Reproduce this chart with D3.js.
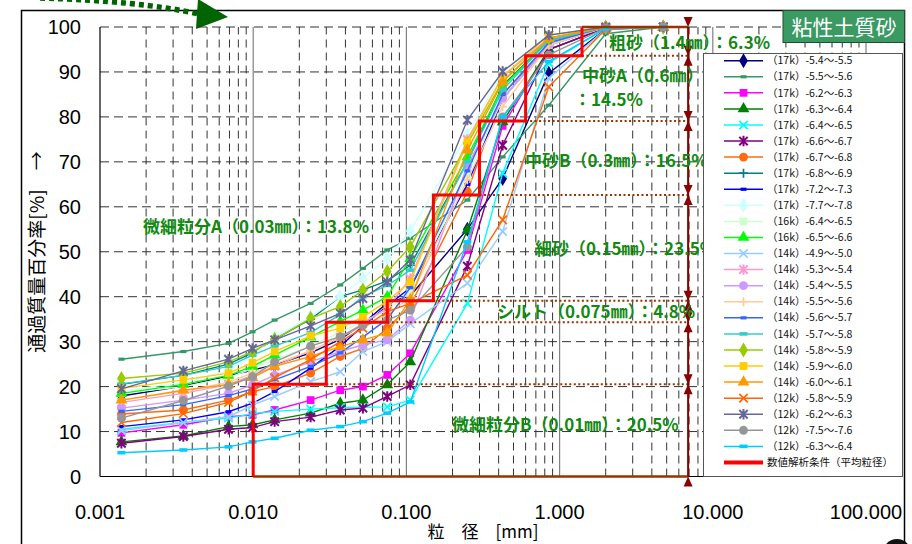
<!DOCTYPE html>
<html><head><meta charset="utf-8">
<script src="https://cdn.jsdelivr.net/npm/d3@7"></script>
<style>body{margin:0;background:#fff}svg{display:block}</style>
</head><body>
<svg id="chart" width="912" height="544"></svg>
<script>
// Particle-size (mm) at which each passing percentage was measured:
// hydrometer readings first, then the sieve openings.
const grainSizes = [0.00138, 0.0035, 0.0069, 0.0099, 0.0138, 0.0237, 0.037, 0.052,
                    0.075, 0.106, 0.25, 0.425, 0.85, 2.0, 4.75];

const seriesNames = [
  "（17k）-5.4～-5.5", "（17k）-5.5～-5.6", "（17k）-6.2～-6.3", "（17k）-6.3～-6.4",
  "（17k）-6.4～-6.5", "（17k）-6.6～-6.7", "（17k）-6.7～-6.8", "（17k）-6.8～-6.9",
  "（17k）-7.2～-7.3", "（17k）-7.7～-7.8", "（16k）-6.4～-6.5", "（16k）-6.5～-6.6",
  "（14k）-4.9～-5.0", "（14k）-5.3～-5.4", "（14k）-5.4～-5.5", "（14k）-5.5～-5.6",
  "（14k）-5.6～-5.7", "（14k）-5.7～-5.8", "（14k）-5.8～-5.9", "（14k）-5.9～-6.0",
  "（14k）-6.0～-6.1", "（12k）-5.8～-5.9", "（12k）-6.2～-6.3", "（12k）-7.5～-7.6",
  "（12k）-6.3～-6.4"
];

// Percent passing [%] for each sample, one row per sample, aligned with grainSizes.
const passingPercent = [
  [17.9, 20.1, 22.4, 23.7, 24.8, 27.5, 30.5, 34.0, 38.6, 40.2, 55.0, 66.3, 89.7, 99.5, 100],
  [26.1, 27.8, 29.6, 32.2, 34.8, 38.5, 42.6, 46.3, 50.4, 53.0, 61.5, 71.1, 82.6, 98.5, 100],
  [9.7, 11.5, 13.3, 13.7, 14.8, 17.0, 19.2, 20.0, 22.6, 27.4, 50.4, 78.0, 95.0, 99.8, 100],
  [7.7, 9.0, 11.1, 11.5, 12.6, 14.1, 16.3, 17.0, 20.4, 25.5, 54.8, 78.9, 95.0, 99.8, 100],
  [10.5, 12.0, 13.0, 14.0, 14.5, 15.0, 15.3, 15.4, 15.5, 17.0, 38.5, 67.5, 92.0, 99.7, 100],
  [7.4, 8.9, 10.5, 10.9, 12.2, 13.2, 14.8, 15.2, 17.8, 20.4, 46.8, 73.7, 95.0, 99.8, 100],
  [13.9, 14.8, 17.0, 18.9, 20.0, 23.0, 26.7, 28.5, 33.0, 38.0, 63.4, 85.0, 96.0, 100, 100],
  [20.5, 22.5, 25.0, 27.5, 30.5, 35.0, 40.0, 41.5, 43.5, 47.0, 70.0, 87.0, 97.0, 100, 100],
  [11.1, 12.6, 14.4, 16.3, 18.9, 24.1, 29.0, 33.5, 38.0, 42.0, 65.0, 84.0, 96.0, 100, 100],
  [19.0, 21.0, 23.5, 27.0, 31.0, 35.5, 40.0, 44.1, 48.5, 54.6, 76.0, 90.0, 98.0, 100, 100],
  [18.5, 20.0, 22.0, 24.0, 26.0, 29.0, 32.0, 34.5, 37.0, 41.0, 67.0, 84.0, 96.0, 100, 100],
  [18.5, 20.5, 22.5, 24.5, 27.0, 31.0, 34.5, 37.0, 40.0, 48.5, 71.1, 86.7, 97.0, 100, 100],
  [10.2, 12.0, 13.3, 15.9, 17.8, 21.1, 23.3, 27.8, 30.0, 34.0, 43.0, 54.5, 88.6, 99.5, 100],
  [16.5, 18.5, 20.5, 22.5, 24.5, 28.0, 31.0, 34.0, 37.5, 44.0, 75.0, 89.0, 97.5, 100, 100],
  [15.2, 17.0, 18.5, 20.4, 22.5, 25.5, 27.8, 29.3, 30.4, 34.8, 69.1, 84.1, 96.0, 100, 100],
  [17.0, 19.0, 21.0, 23.0, 25.0, 28.0, 31.0, 33.5, 36.0, 40.0, 66.0, 82.3, 96.0, 100, 100],
  [14.5, 16.0, 18.0, 19.5, 21.5, 24.5, 27.5, 31.0, 35.0, 42.0, 68.0, 85.0, 96.5, 100, 100],
  [20.6, 22.5, 24.5, 27.0, 29.0, 32.0, 36.0, 40.0, 42.5, 45.9, 70.0, 86.0, 97.0, 100, 100],
  [21.8, 23.0, 25.5, 27.8, 30.5, 35.2, 37.8, 41.5, 45.6, 51.1, 74.0, 88.0, 97.5, 100, 100],
  [19.6, 21.5, 23.0, 25.3, 27.8, 31.3, 33.0, 35.5, 39.0, 43.3, 74.5, 89.0, 98.2, 100, 100],
  [17.0, 19.2, 20.5, 22.0, 24.5, 26.7, 28.9, 30.4, 31.9, 39.3, 72.6, 87.8, 97.5, 100, 100],
  [12.0, 14.0, 16.5, 19.0, 22.0, 26.0, 30.0, 33.0, 36.7, 38.5, 44.8, 57.1, 86.7, 99.5, 100],
  [19.5, 23.5, 26.1, 28.5, 30.4, 33.5, 36.3, 39.6, 43.3, 48.2, 79.3, 90.1, 98.2, 100, 100],
  [13.0, 16.9, 20.1, 22.2, 25.5, 29.0, 31.1, 33.7, 34.8, 37.0, 51.1, 80.0, 93.8, 99.8, 100],
  [5.3, 5.9, 6.6, 7.7, 8.5, 10.3, 11.1, 12.2, 14.1, 16.6, 52.2, 80.0, 92.3, 99.7, 100]
];

// Grain classes used for the numerical analysis (mean size and share).
const classNames   = ["微細粒分B", "微細粒分A", "シルト", "細砂", "中砂B", "中砂A", "粗砂"];
const classSizes   = [0.01, 0.03, 0.075, 0.15, 0.3, 0.6, 1.4];
const classPercent = [20.5, 13.8, 4.8, 23.5, 16.5, 14.5, 6.3];

const yTicks = [0, 10, 20, 30, 40, 50, 60, 70, 80, 90, 100];
const xTicks = [0.001, 0.01, 0.1, 1, 10, 100];
const bracketSize = 6.9;   // grain size where the class bracket is drawn

// ---- styling (kept apart from the data) ----
const seriesStyle = [
  ["#000080", "diamond"], ["#339966", "dashS"], ["#FF00FF", "square"], ["#008000", "triangle"],
  ["#00FFFF", "x"], ["#800080", "star"], ["#FF6A10", "circle"], ["#008080", "plus"],
  ["#0000FF", "dashS"], ["#CCFFFF", "diamond"], ["#CCFFCC", "square"], ["#00FF00", "triangle"],
  ["#99CCFF", "x"], ["#FF99CC", "star"], ["#CC99FF", "circle"], ["#FFCC99", "plus"],
  ["#3366FF", "dashS"], ["#33CCCC", "dashL"], ["#99CC00", "diamond"], ["#FFCC00", "square"],
  ["#FF9900", "triangle"], ["#FF6600", "x"], ["#666699", "star"], ["#969696", "circle"],
  ["#00CCFF", "dashL"]
];
const labelGreen = "#128a12";
const brown = "#993300";
const darkRed = "#8B0000";

const svg = d3.select("#chart");
const x = d3.scaleLog().domain([0.001, 100]).range([100, 866]);
const y = d3.scaleLinear().domain([0, 100]).range([476.5, 27]);

// outer frame
svg.append("rect").attr("x", 21.5).attr("y", 10.5).attr("width", 883).attr("height", 600)
  .attr("fill", "#fff").attr("stroke", "#000").attr("stroke-width", 1.5);

// decorative arrow at the top-left corner
svg.append("path").attr("d", "M40,-2 Q140,1 199,14")
  .attr("fill", "none").attr("stroke", "#006400").attr("stroke-width", 5.5)
  .attr("stroke-dasharray", "5,4");
svg.append("path").attr("d", "M198,-1 L228,17 L196,29 Z").attr("fill", "#006400");

// ---- grid ----
const grid = svg.append("g");
yTicks.filter(v => v > 0).forEach(v => {
  grid.append("line").attr("x1", x(0.001)).attr("x2", x(100)).attr("y1", y(v)).attr("y2", y(v))
    .attr("stroke", "#333").attr("stroke-dasharray", "9,5");
});
xTicks.slice(0, -1).forEach(d => {
  for (let k = 2; k <= 9; k++) {
    grid.append("line").attr("x1", x(d * k)).attr("x2", x(d * k)).attr("y1", y(0)).attr("y2", y(100))
      .attr("stroke", "#333").attr("stroke-dasharray", "8,5");
  }
});
xTicks.slice(1).forEach(d => {
  grid.append("line").attr("x1", x(d)).attr("x2", x(d)).attr("y1", y(0)).attr("y2", y(100))
    .attr("stroke", "#808080").attr("stroke-width", 1.2);
});
// axes lines
svg.append("line").attr("x1", x(0.001)).attr("x2", x(0.001)).attr("y1", y(0)).attr("y2", y(100))
  .attr("stroke", "#000").attr("stroke-width", 1.2);
svg.append("line").attr("x1", x(0.001)).attr("x2", x(100)).attr("y1", y(0)).attr("y2", y(0))
  .attr("stroke", "#000").attr("stroke-width", 1.2);

// tick labels
svg.append("g").selectAll("text").data(yTicks).join("text")
  .attr("x", 81).attr("y", d => y(d)).attr("dy", "0.36em").attr("text-anchor", "end")
  .attr("font-family", "Liberation Sans, Arial, sans-serif").attr("font-size", 20).text(d => d);
svg.append("g").selectAll("text").data(xTicks).join("text")
  .attr("x", d => x(d)).attr("y", 519).attr("text-anchor", "middle")
  .attr("font-family", "Liberation Sans, Arial, sans-serif").attr("font-size", 20)
  .text(d => d3.format(".3f")(d));

// axis titles
svg.append("text").attr("transform", "translate(44,252) rotate(-90)").attr("text-anchor", "middle")
  .attr("font-family", "Noto Sans CJK JP").attr("font-size", 19).text("通過質量百分率[%]　→");
svg.append("text").attr("x", 483).attr("y", 538).attr("text-anchor", "middle")
  .attr("font-family", "Noto Sans CJK JP").attr("font-size", 17).text("粒　径　[mm]");

// ---- markers ----
function drawMarker(g, shape, color, px, py) {
  const m = g.append("g").attr("transform", `translate(${px},${py})`);
  const sym = (t, s) => m.append("path").attr("d", d3.symbol(t, s)()).attr("fill", color);
  const strokeP = (d, w) => m.append("path").attr("d", d).attr("fill", "none")
    .attr("stroke", color).attr("stroke-width", w);
  switch (shape) {
    case "diamond": sym(d3.symbolDiamond, 66); break;
    case "square": sym(d3.symbolSquare, 60); break;
    case "triangle": sym(d3.symbolTriangle, 60); break;
    case "circle": sym(d3.symbolCircle, 62); break;
    case "x": strokeP("M-4.2,-4.2L4.2,4.2M-4.2,4.2L4.2,-4.2", 1.7); break;
    case "star": strokeP("M-4.2,-4.2L4.2,4.2M-4.2,4.2L4.2,-4.2M0,-5.2L0,5.2", 2); break;
    case "plus": strokeP("M-4.5,0L4.5,0M0,-4.5L0,4.5", 1.7); break;
    case "dashS": m.append("rect").attr("x", -3).attr("y", -1.6).attr("width", 6).attr("height", 3.2).attr("fill", color); break;
    case "dashL": m.append("rect").attr("x", -4).attr("y", -1.8).attr("width", 8).attr("height", 3.6).attr("fill", color); break;
  }
}

// ---- series ----
const line = d3.line().x(d => x(d[0])).y(d => y(d[1]));
const plot = svg.append("g");
passingPercent.forEach((vals, i) => {
  const [color, shape] = seriesStyle[i];
  const pts = grainSizes.map((s, j) => [s, vals[j]]);
  const g = plot.append("g");
  g.append("path").attr("d", line(pts)).attr("fill", "none").attr("stroke", color).attr("stroke-width", 1.4);
  pts.forEach(p => drawMarker(g, shape, color, x(p[0]), y(p[1])));
});

// ---- class steps for the numerical analysis ----
const cumulative = d3.cumsum(classPercent);
const stepPts = [[classSizes[0], 0]];
classSizes.forEach((s, i) => {
  stepPts.push([s, cumulative[i]]);
  if (i + 1 < classSizes.length) stepPts.push([classSizes[i + 1], cumulative[i]]);
});
const ann = svg.append("g");
// baseline and top of the bracket
ann.append("line").attr("x1", x(classSizes[0])).attr("x2", x(bracketSize)).attr("y1", y(0)).attr("y2", y(0))
  .attr("stroke", brown).attr("stroke-width", 2.5);
ann.append("line").attr("x1", x(classSizes[classSizes.length - 1])).attr("x2", x(bracketSize))
  .attr("y1", y(100)).attr("y2", y(100)).attr("stroke", brown).attr("stroke-width", 2.5);
// dotted class limits
cumulative.slice(0, -1).forEach((c, i) => {
  ann.append("line").attr("x1", x(classSizes[i + 1])).attr("x2", x(bracketSize))
    .attr("y1", y(c)).attr("y2", y(c)).attr("stroke", brown).attr("stroke-width", 2)
    .attr("stroke-dasharray", "2,2.5");
});
ann.append("path").attr("d", line(stepPts)).attr("fill", "none").attr("stroke", "#FF0000").attr("stroke-width", 3);

// vertical bracket with arrowheads at every class limit
const bx = x(bracketSize);
ann.append("line").attr("x1", bx).attr("x2", bx).attr("y1", y(0)).attr("y2", y(100))
  .attr("stroke", darkRed).attr("stroke-width", 2);
const limits = [0, ...cumulative.slice(0, -1), 100];
limits.forEach((c, i) => {
  const py = y(c);
  if (i > 0) ann.append("path").attr("d", `M${bx - 4.5},${py - 10} L${bx + 4.5},${py - 10} L${bx},${py} Z`).attr("fill", darkRed);
  if (i < limits.length - 1) ann.append("path").attr("d", `M${bx - 4.5},${py + 10} L${bx + 4.5},${py + 10} L${bx},${py} Z`).attr("fill", darkRed);
});

// class labels
const labelPos = [[452, 426], [143, 228], [497, 313], [535, 250], [525, 162], [582, 77], [609, 44]];
const labelFont = (t) => t.attr("font-family", "Noto Sans CJK JP").attr("font-weight", 700)
  .attr("font-size", 17).attr("fill", labelGreen).attr("dominant-baseline", "middle");
classNames.forEach((n, i) => {
  const [lx, ly] = labelPos[i];
  const head = `${n}（${classSizes[i]}㎜）`;
  const tail = `：${classPercent[i]}%`;
  if (n === "中砂A") {
    labelFont(ann.append("text").attr("x", lx).attr("y", ly).text(head));
    labelFont(ann.append("text").attr("x", lx - 8).attr("y", ly + 24).text(tail));
  } else {
    labelFont(ann.append("text").attr("x", lx).attr("y", ly).text(head + tail));
  }
});

// ---- legend ----
const lg = svg.append("g");
lg.append("rect").attr("x", 703.5).attr("y", 53.5).attr("width", 199).attr("height", 423)
  .attr("fill", "#fff").attr("stroke", "#555");
const legendRows = seriesNames.map((n, i) => ({ name: n, color: seriesStyle[i][0], shape: seriesStyle[i][1] }));
legendRows.push({ name: "数値解析条件（平均粒径）", color: "#FF0000", shape: null });
legendRows.forEach((r, i) => {
  const ly = 60.7 + i * 16.07;
  lg.append("line").attr("x1", 724).attr("x2", 763).attr("y1", ly).attr("y2", ly)
    .attr("stroke", r.color).attr("stroke-width", r.shape ? 1.5 : 4);
  if (r.shape) drawMarker(lg, r.shape, r.color, 743.5, ly);
  lg.append("text").attr("x", 767).attr("y", ly).attr("dy", "0.35em")
    .attr("font-family", "Noto Sans CJK JP").attr("font-size", 10.5).attr("fill", "#111").text(r.name);
});

// ---- title box ----
svg.append("rect").attr("x", 783).attr("y", 10.5).attr("width", 121.5).attr("height", 32)
  .attr("fill", "#3a9a62").attr("stroke", "#1f4f33");
svg.append("text").attr("x", 844).attr("y", 27).attr("dy", "0.36em").attr("text-anchor", "middle")
  .attr("font-family", "Noto Sans CJK JP").attr("font-size", 21).attr("fill", "#fff").text("粘性土質砂");

// corner badge
svg.append("circle").attr("cx", 897).attr("cy", 553).attr("r", 14).attr("fill", "#111");
</script>
</body></html>
